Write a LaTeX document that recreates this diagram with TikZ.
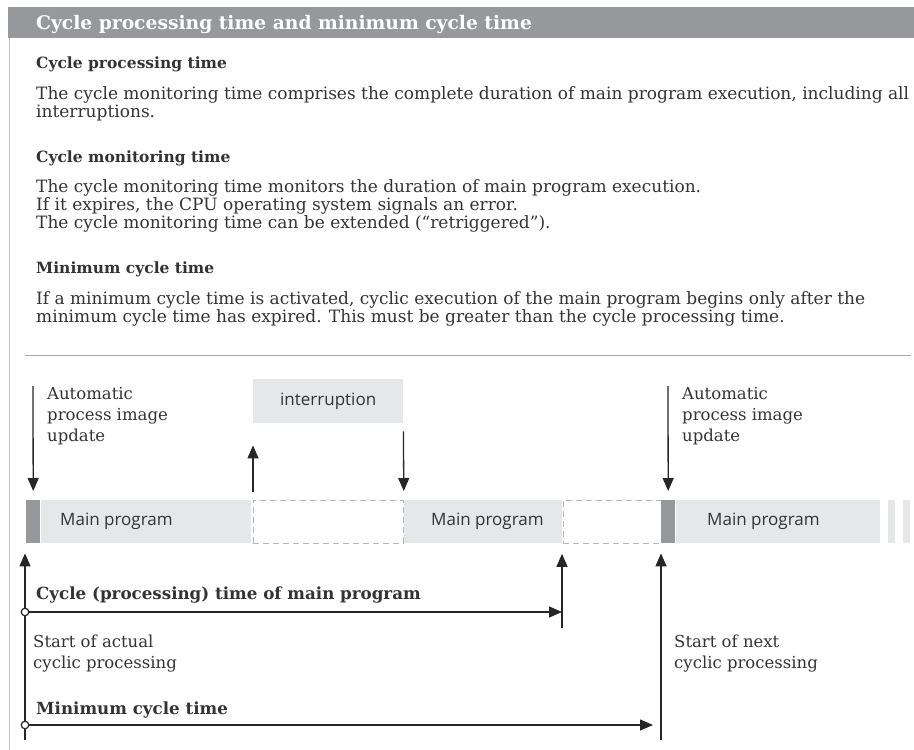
\documentclass[tikz,border=0pt]{standalone}
\usepackage{fontspec}
\setmainfont{DejaVu Serif}
\newfontfamily\boxfont{Open Sans}
\usepackage{xcolor}
\usepackage{tikz}
\usetikzlibrary{arrows.meta,positioning,calc}

\definecolor{barGray}{HTML}{96989B}
\definecolor{boxGray}{HTML}{E6E7E8}
\definecolor{ruleGray}{HTML}{A7A9AC}
\definecolor{txtGray}{HTML}{333333}

\begin{document}
\begin{tikzpicture}[x=1pt,y=-1pt,
  every node/.style={inner sep=0pt, text=txtGray},
  arr/.style={-{Triangle[length=13pt,width=11pt]}, line width=1.3pt, draw=black!85},
  body/.style={anchor=base west, align=left, font=\fontsize{17}{18}\selectfont},
  head/.style={anchor=base west, font=\fontsize{15.5}{16}\selectfont\bfseries},
  lbl/.style={anchor=base west, align=left, font=\fontsize{16.5}{21}\selectfont},
  lblbold/.style={anchor=base west, font=\fontsize{16.7}{21}\selectfont\bfseries},
  seg/.style={anchor=north west, minimum height=43pt, minimum width=#1},
  prog/.style={seg=#1, fill=boxGray},
  upd/.style={seg=14pt, fill=barGray},
  gapbox/.style={seg=#1, draw=barGray!70, dash pattern=on 6pt off 4pt, line width=0.8pt},
  progtxt/.style={anchor=west, font=\boxfont\fontsize{17}{20}\selectfont},
  dot/.style={circle, draw=black!85, fill=white, line width=1.2pt, minimum size=7.5pt}]
  \useasboundingbox (0,0) rectangle (914,750);

  % header and frame
  \node[anchor=north west, fill=barGray, minimum width=906pt, minimum height=31pt] (titlebar) at (8,7) {};
  \node[anchor=base west, text=white, font=\fontsize{18.7}{20}\selectfont\bfseries] (title) at (36,29)
    {Cycle processing time and minimum cycle time};
  \draw[ruleGray!70, line width=1pt] (titlebar.south west) ++(1.5,0) -- (9.5,750);

  % text blocks (base = last line)
  \node[head] (h1) at (36,68) {Cycle processing time};
  \node[body] (t1) at (36,117) {The cycle monitoring time comprises the complete duration of main program execution, including all\\interruptions.};
  \node[head] (h2) at (36,162) {Cycle monitoring time};
  \node[body] (t2) at (36,228) {The cycle monitoring time monitors the duration of main program execution.\\If it expires, the CPU operating system signals an error.\\The cycle monitoring time can be extended (“retriggered”).};
  \node[head] (h3) at (36,273) {Minimum cycle time};
  \node[body] (t3) at (36,322) {If a minimum cycle time is activated, cyclic execution of the main program begins only after the\\minimum cycle time has expired. This must be greater than the cycle processing time.};
  \draw[ruleGray, line width=1pt] (25,355) -- (911,355);

  % time bar
  \node[upd] (upd1) at (26,500) {};
  \node[prog=210pt] (mp1) at (41,500) {};
  \node[gapbox=150pt] (gap1) at (253,500) {};
  \node[prog=158pt] (mp2) at (404,500) {};
  \node[gapbox=98pt] (gap2) at (563,500) {};
  \node[upd] (upd2) at (661,500) {};
  \node[prog=204pt] (mp3) at (676,500) {};
  \node[prog=7pt] (tail1) at (888,500) {};
  \node[prog=7pt] (tail2) at (903,500) {};
  \node[progtxt, right=19pt of mp1.west] {Main program};
  \node[progtxt, right=27pt of mp2.west] {Main program};
  \node[progtxt, right=31pt of mp3.west] {Main program};
  \node[anchor=north west, fill=boxGray, minimum width=150pt, minimum height=44pt,
    font=\boxfont\fontsize{17}{20}\selectfont] (intr) at (253,379) {interruption};

  % image update and interruption arrows
  \coordinate (d1) at (33,386);
  \coordinate (d2) at (668,386);
  \draw[arr] (d1) -- ([yshift=9pt]upd1.north);
  \draw[arr] (d2) -- ([yshift=9pt]upd2.north);
  \draw[arr] ([yshift=8pt]gap1.north west) -- ([yshift=-22pt]intr.south west);
  \draw[arr] ([yshift=-8pt]intr.south east) -- ([yshift=9pt]gap1.north east);
  \node[lbl] (au1) at (47,441) {Automatic\\process image\\update};
  \node[lbl] (au2) at (682,441) {Automatic\\process image\\update};

  % time spans
  \coordinate (t0) at (25,740);
  \coordinate (b1) at (562,628);
  \coordinate (b2) at (661,740);
  \coordinate (e1) at (562,612);
  \coordinate (e2) at (653,725);
  \draw[arr] (t0) -- ([xshift=-1pt,yshift=-10pt]upd1.south west);
  \draw[arr] (b1) -- ([xshift=-1pt,yshift=-10pt]gap2.south west);
  \draw[arr] (b2) -- ([yshift=-10pt]upd2.south west);
  \node[dot] (c1) at (25,612) {};
  \node[dot] (c2) at (25,725) {};
  \draw[arr] (c1) -- (e1);
  \draw[arr] (c2) -- (e2);
  \node[lblbold] (cyc) at (36,599) {Cycle (processing) time of main program};
  \node[lbl] (st1) at (33,668) {Start of actual\\cyclic processing};
  \node[lblbold] (minc) at (36,714) {Minimum cycle time};
  \node[lbl] (st2) at (674,668) {Start of next\\cyclic processing};
\end{tikzpicture}
\end{document}
